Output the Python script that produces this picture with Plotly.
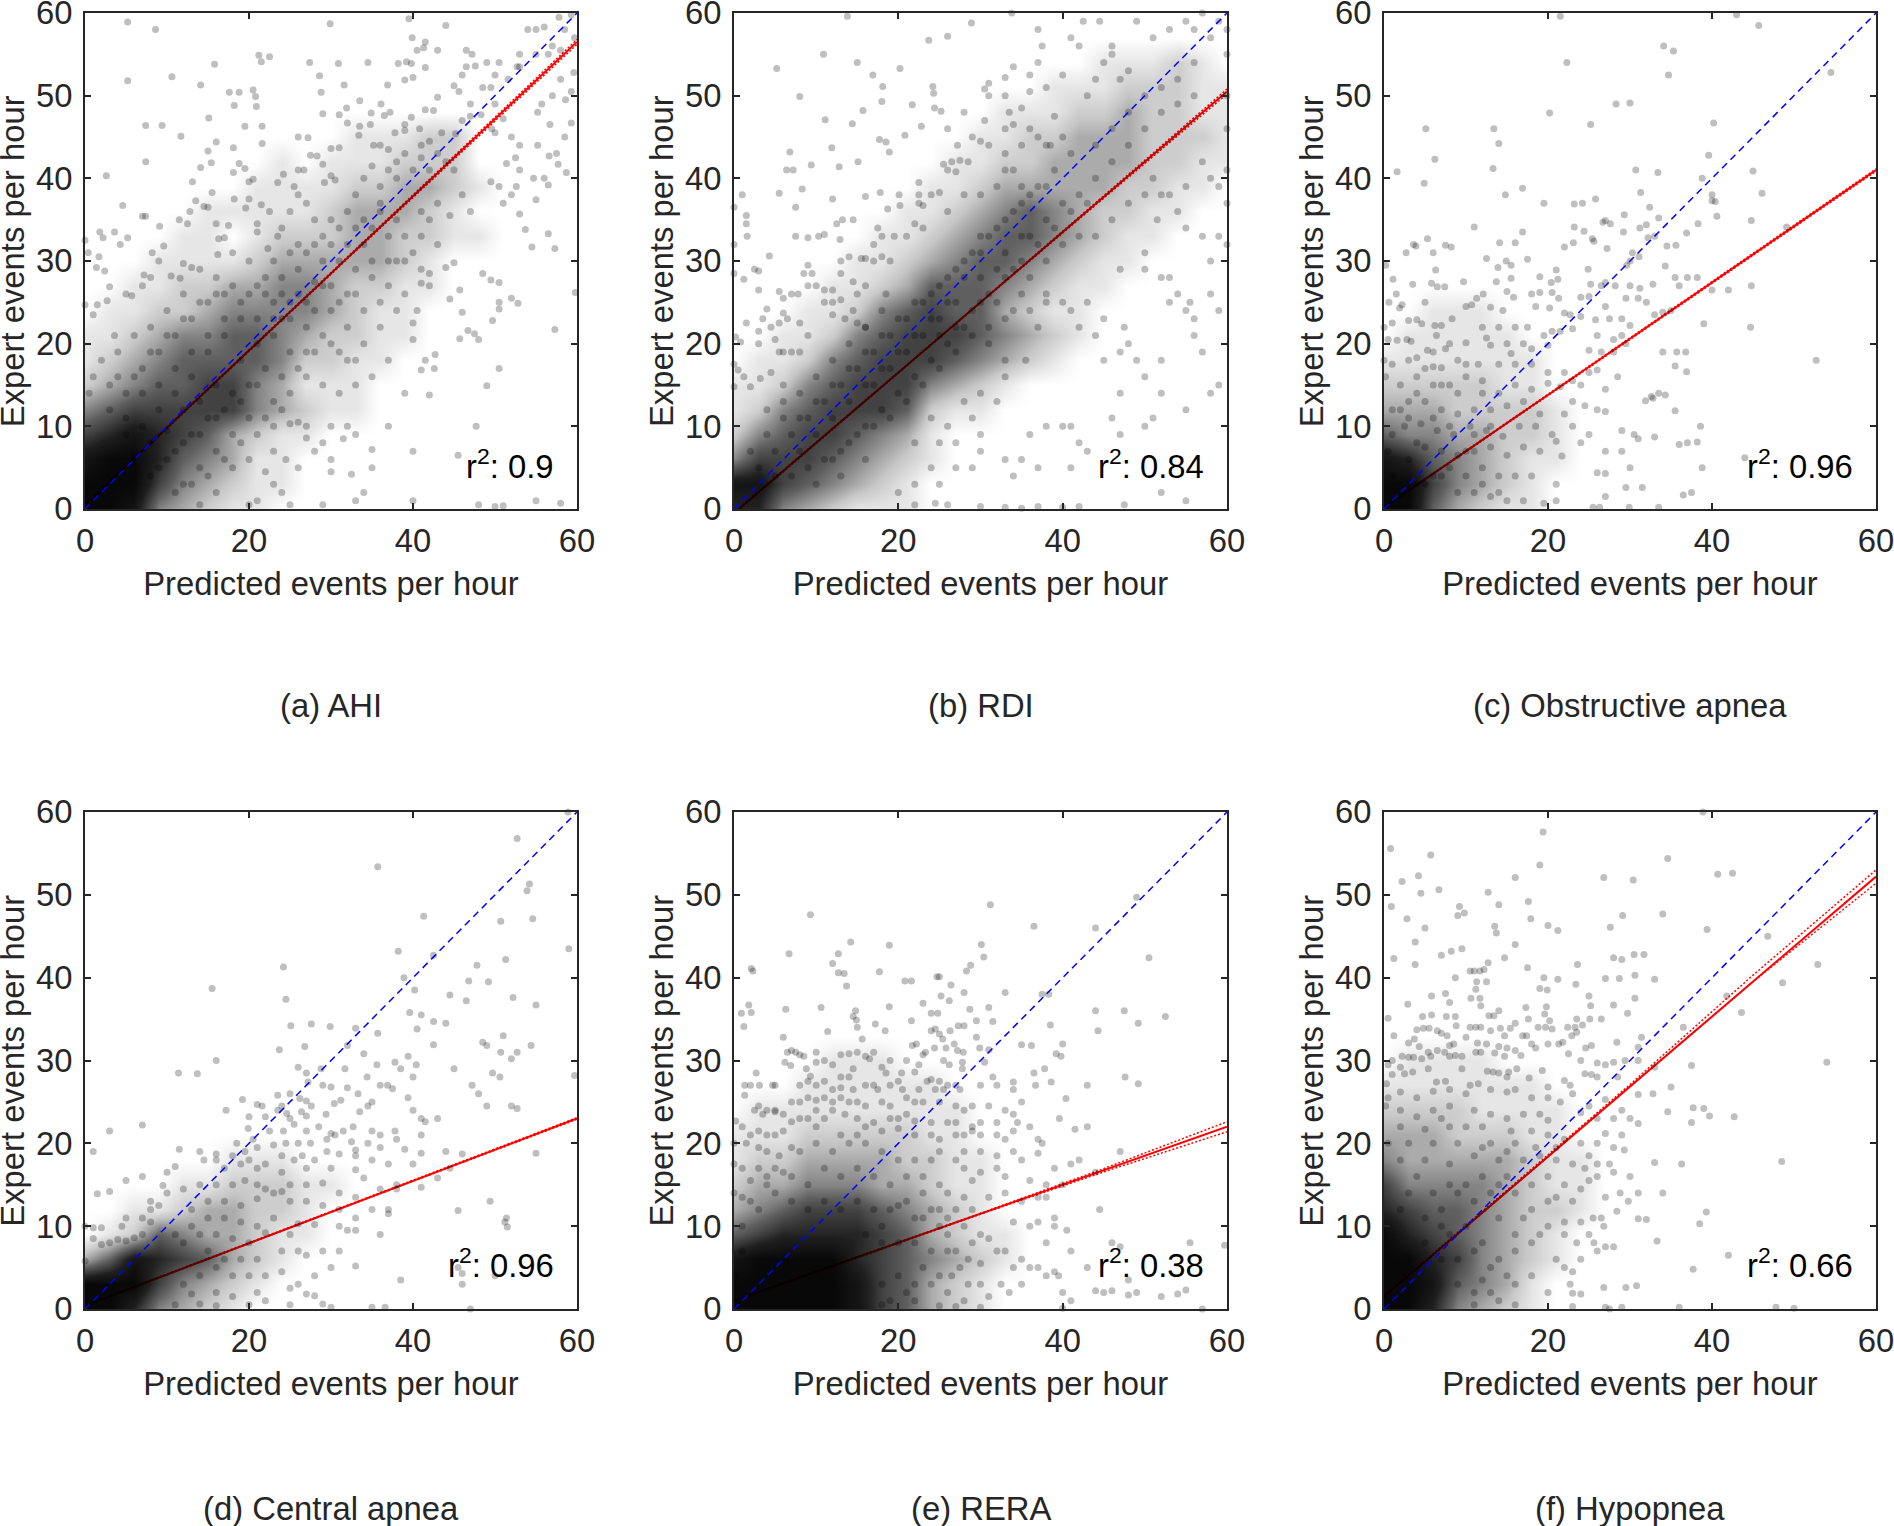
import plotly.graph_objects as go

# Values (predicted, expert)
a_dots = [(5.2,58.9),(8.6,58),(5.2,51.8),(10.6,52.3),(7.4,46.4),(9.4,46.4),(7.4,42),(2.6,40.3),(11.7,45.1),(14.1,51.3),(15.8,53.8),(15.1,47.3),(17.6,50.4),(18.8,50.4),(18.2,48.8),(20.5,50.7),(20.8,49.9),(20.9,48.7),(21.2,54.9),(21.5,54.1),(22.5,54.7),(19.5,46.3),(21.6,46.3),(16,44.4),(21.6,44.2),(15,43.3),(18.1,43.7),(15.4,41.9),(14.1,41.3),(13.1,39.6),(18.8,41.8),(19.5,41.2),(18.1,40.7),(20,39.6),(20.5,39.9),
(0,32.5),(0.4,31),(1.8,33.5),(2.2,32.8),(3.6,33.5),(4.3,32),(5.2,32.8),(4.6,36.7),(7,35.4),(7.4,35.4),(9.1,34.2),(8.2,31),(9.6,31.8),(1.7,30.5),(1.4,29.2),(2.4,28.8),(0,24.7),(1.5,24.7),(2.7,25.2),(3,26.9),(3.6,21),(1,23.5),(5,26),(5.7,25.8),(8,28),(7.2,28.3),(7,27),(9,30),(10.5,28.2),(11.6,27.9),(12,29.7),(13,29.2),(11.5,35),(12.5,34.5),(12.8,36),(13.5,37.3),(14.5,36.6),(15.5,38.3),(16,34.5),(16.3,32.7),(17,32.8),(16.2,30.8),(15,36.5),(17.5,34.3),(18.2,37.5),(19.6,36.4),(20,37.5),(21,34.5),(21.5,36.8),(22.5,36),(21,33.5),(22.3,31.5),(23.5,33),(24.2,40.5),(23.5,39.5),(25.5,39),(26,41),(26.7,41),(27.5,42.8),(28.3,42.7),(26,45),(27.2,44.9),(29,41.7),(29.2,39.5),(30,40.3),(30.5,39.8),(31,43.7),(30,43.6),(29,47.8),(31,47.7),(32,46.7),(31.9,48.5),(31.6,51.3),(30.9,53.9),(28.6,52.4),(28.8,50.4),(27.4,54),(34.5,54),(33.5,49.4),(34.9,47.9),(36.1,49),(33.5,46.3),(34.8,46.5),(33.4,45.2),(36.5,47.6),(37.2,48),(36.9,51.3),(37.8,45.5),(36,44),(35.2,44),(37,43.5),(39,46.5),(39.8,47.4),(39,45.8),(38,40),(40.8,46),(41,44),(42,44.5),(43,43),(43.5,45.5),(45.2,45.4),(46,47),(47,47.5),(45.6,50.5),(45,51.2),(43,49.8),(41.5,48.3),(42.5,48.2),(47,49),(48.5,51),(49.5,51),(50,52.5),(49,54),(50.5,54),(46,52.5),(46.5,55.5),(47.2,55),(43,55.5),(41.5,53.4),(40,52.2),(39,51.9),(38.2,53.9),(39.2,54.1),(39.8,53.9),(40.5,55.5),(41.3,55.8),(41.5,56.5),(39.9,57),(39.5,59.3),(44,58.5),(46.5,53.5),(47.6,53.6),(48.3,47.7),(51,47.2),(50,45.5),(52,45),(53,44),(52.5,42.5),(53,41),(51.4,41.8),(54.7,40),(56,40),(56.5,39.2),(56.6,42.7),(55.2,44),(57.7,41.7),(58.7,40.7),(57.5,43),(58.5,45),(59.3,46.7),(56.7,46.5),(55.7,49),(55.2,48),(57,50),(58.6,49.5),(58,52),(59.3,50.5),(59.6,52.8),(58,55.5),(56.5,55),(55,55),(53,55),(53,53.5),(51.6,52),(54,58),(55,58),(56,58.3),(57,56),(57.8,59.5),(58.5,58),(59.3,59.8),(59.7,57),(29.9,58.7),(52.7,53.5),(50,49),(49.6,46),(49.5,39.6),(50.5,39),(52,38),(52.6,39),(51,37),(55,37.4),(53,35.7),(53.7,33.8),(54.5,31.7),(56.5,33.3),(57.3,31.5),(59.8,26.2),(57.3,21.7),(48.5,28.5),(49.5,27.7),(50.5,27.4),(52,25.5),(52.8,24.9),(50.5,25),(50.5,24.2),(49.7,22.8),(50.5,17),(49,14.9),(47.5,21.2),(46.7,21.6),(48,20.5),(45.7,20.6),(46,23.8),(45.7,26.5),(44.5,25.4),(45,29.8),(44,29.2),(42,28.5),(41,27.3),(42,27),(40.5,24),(40,22.5),(40,20.5),(41.5,18),(42.7,18.7),(42.6,17),(41,16.8),(42,13.8),(39,14),(40,7),(37,10),(35,7.2),(33,9),(32,10),(30,10),(31.5,8.5),(35,5),(32.5,4.2),(34,2),(33,1),(40,1),(47.7,10),(48,0.5),(50,0.3),(51,0.4),(55,1),(58,0.7),(45.5,6.5),(29,8),(27,8.6),(25,10.3),(26,10.5),(27,10),(28,7),(30,6),(26,5),(24.5,6),(23,7),(22,4.5),(23,3),(24,2),(25,0.5),(30,4.5),(29,0.5),(20,6),(18,5),(21,1),(20,0.5),(16,2),(14,0.5),
(33,38),(34,40),(35,41.5),(36,39),(37,41),(38,42),(39,43),(40,41),(41,42.5),(42,41),(44,42),(45,41),(43,37),(44.5,35.5),(46,38),(47,36),(42,35),(41,33),(40,31),(39,33),(38,35),(37,33),(36,36),(35,34),(34,32),(33,34),(32,36),(31,34),(30,35),(29,33),(28,35),(27,37),(26,38),(25,36),(24,34),(23,30),(25,31),(27,31),(29,30),(31,30),(33,29),(35,28),(37,27),(39,26),(41,29),(43,32),(38,30),(36,25),(34,24),(32,22),(30,24),(28,24),(26,26),(24,28),(22,28),(20,30),(18,31),(16,28),(14,29),(12,26),(10,24),(8,22),(6,21),(4,19),(2,18),(1,16),(0.5,14),(3,15),(5,14),(7,17),(9,19),(11,21),(13,23),(15,25),(17,26),(19,25),(21,27),(23,25),(25,23),(27,22),(29,21),(31,19),(33,18),(35,16),(33,15),(31,14),(29,15),(27,16),(25,14),(23,13),(21,15),(19,13),(17,12),(15,11),(13,9),(11,7),(9,5),(12,3),(14,5),(16,7),(18,9),(20,11),(22,11),(24,12),(13,16),(11,14),(9,12),(7,10),(5,9),(15,19),(17,21),(19,18),(21,20),(23,21),(25,19),(27,19),(16,15),(14,13),(12,12),(10,9.5),(8,8),(6,6.5),(36,22),(37,18),(38,24),(34,20),(32,26),(30,27),(28,27.5),(26,29),(24,23),
(3,12),(5,11),(7,14),(9,15),(11,17),(13,19),(15,21),(17,23),(19,23),(21,23),(23,23),(25,25),(27,25),(29,27),(31,25),(33,26),(35,30),(37,30),(39,30),(41,36),(20,15),(22,17),(24,16),(26,17),(28,19),(30,20),(32,18),(18,14),(16,11),(14,9),(12,8),(10,6),(8,4),(11,2),(13,3),(15,4),(17,6),(19,8),(21,9),(23,10),(6,16),(4,16),(8,19),(10,21),(12,23),(14,25),(16,26),(18,27),(20,26),(22,26),(24,26),(26,32),(28,32),(30,32),(32,32),(34,35),(36,37)]
a_density = ["99843211","99964321100","8997543110","67876532110","45666664321100","23455664311100","12345555422110","11234455432211","0112234444321100","00112233443221100","00011112333332100","000011012223322110","00000111112333210","00000001111223321","0000000010111222","0000000000011122"]
a_fit = [0.5,56.5]
a_hi = [0.6,14.55,28.6,42.7,56.8]
a_lo = [0.4,14.45,28.4,42.3,56.2]

b_dots = [(13.8,59.6),(10.9,55),(5.2,53.3),(15,54),(8,49.9),(11.1,47.1),(14.4,46.6),(15.7,48.2),(16.9,52.5),(18.1,51.1),(18,49.3),(20.2,53.3),(23.7,56.7),(26,57.2),(28.9,58.8),(33.8,60),(24.2,51.1),(24.3,50.3),(24.4,48.5),(25.2,48.1),(21.7,48.9),(20.8,45.2),(22.8,46.3),(17.7,44.7),(18.5,44.4),(18.9,43.2),(11.9,43.7),(6.8,43.2),(6.4,41),(7.2,41),(9.4,41.6),(12.8,41.4),(15.1,42),(1,38),(5.5,38.2),(8.3,38.7),(7.5,36.5),(12,37.5),(16,37.8),(17.8,38.3),(18.7,36.3),(20.1,38),(20.2,36.7),(0,36.5),(1.5,35.5),(1.5,34.5),(1.6,33),(0,32),(4.3,30.6),(2.5,29),(3,28.8),(0,28.5),(1.2,27.8),(3,26.5),(5.5,26.3),(6,25.5),(7,26),(7.8,26),(4,24.2),(3.5,23),(1.5,22.5),(3,21.5),(4.5,22),(5.5,22.5),(6,23.7),(6.5,23),(0.2,20.8),(0.8,20.2),(3,20),(5,20.5),(5.5,19),(6,19),(7,19),(8,19),(8,22.5),(9,21),(0,17.5),(0.5,16.8),(1.2,16),(3.2,15.8),(4.5,16.5),(6,15),(2,14.8),(0,14.8),(7.5,33),(9,32.8),(10.3,33),(11,33.2),(12.5,34.5),(13.2,35),(14.5,35),(12.9,32.6),(9,29.5),(9.5,28.5),(8.5,28.5),(13,30),(14,30.5),(13,28.5),(14.5,27.5),(15.5,30.3),(16,30.3),(17,30),(18,30.5),(19,30),(16,27),(15,26),(12,26.5),(11,26.5),(10,27),(9,27),(11,25),(12,25),(13,25.3),(12,23.5),(13.5,23),(14.5,24),(15,22.5),(16,22),(18,24),(18.5,26),(17,32),(17.5,34),(18,33),(19.5,33),(21,33),(22,34.5),(23,34),(22.5,37),(22.5,38),(22.5,39.5),(23,36.7),(24,38),(25,38.3),(26,36),(25.5,41.7),(26,41),(26.5,42),(27.5,42.2),(27,40.8),(26,46),(27.2,44),(28,48),(29,45),(30,44.5),(31,44),(28.5,42),(28,38),(30,38),(32,39),(33,41),(34,41),(35,39),(31,51.5),(30.5,50.8),(33,52.2),(33,50),(33.5,48),(35,48.5),(36,50.5),(37,54),(34,53.5),(37,58),(37.5,56),(36,52.5),(38,51),(39,47.5),(40,52.5),(40,45),(38,44),(37,45),(38.5,44),(35,44),(34,46.5),(33,46),(36,46),(33,43),(30.5,47),(31,50),(41,57),(42,56),(43,50),(44,52),(45,54),(46,55),(47,52),(48,53),(46,56),(42.5,59),(44.5,59),(49,59),(51,57),(53,58),(55,59),(56,58),(57,60),(58,57),(59,59),(60,58),(60,55),(60,50),(60,46),(60,41),(60,37),(59,39),(58,40),(57,42),(55,39),(53,38),(52,38),(51,40),(51.5,35),(54,36),(55,34),(57,33),(59,33),(60,32),(58,30),(58,26),(59,24),(56,23),(55,24),(55.5,25),(53,25),(54,26),(52,28),(53,28),(50,29),(50,31),(47,29),(47.5,22),(48,20),(49,18),(47,19),(47,14),(50,16),(52,18),(52,14),(51,11),(55,12),(58,14),(59,15),(56,21),(57,19),(45,18),(45,23),(44,21),(42,22),(41,24),(40,25),(43,25),(38,26),(37,22),(35.5,18),(33,18),(31,20),(33,16),(30,14),(32,13),(28,13),(29,11),(30,9),(26,10),(24,11),(22,8),(25,8),(27,8),(30,7),(33,6),(35,6),(36,9),(38,10),(40,10),(41,10),(42,8),(43,7),(41,5),(37,5),(34,4),(29,5),(27,5),(24,5),(25,3),(22,3),(20,2),(22,0.5),(24.5,0.7),(26,0.5),(30,0.3),(33,0.2),(35,0.1),(37,0.3),(40,0.2),(42,0.3),(47.5,0.5),(55,1),(52,2),(46,11),(50,10),(47,9),
(36,33),(38,35),(40,37),(42,38),(44,40),(46,42),(48,44),(50,46),(52,48),(54,49),(56,50),(44,44),(46,46),(48,48),(50,50),(52,51),(54,52),(56,54),(41,43),(39,41),(37,39),(35,37),(33,35),(31,33),(29,31),(27,29),(25,27),(23,25),(21,23),(19,21),(17,19),(36,28),(38,30),(40,32),(42,33),(44,33),(46,35),(48,37),(50,38),(38,25),(36,24),(34,24),(32,25),(30,25),(28,22),(26,20),(24,18),(22,16),(20,14),(18,12),(16,10),(14,8),(12,6),(30,31),(28,28),(26,25),(24,23),(22,21),(20,19),(18,17),(16,15),(14,13),(12,11),(10,9),(8,7),(6,11),(8,14),(10,16),(12,18),(14,20),(16,22),(4,9),(2,7),(34,29),(32,29),(30,28),(25,21),(27,25),(35,33),(33,31),
(5,7),(7,9),(9,11),(11,13),(13,15),(15,17),(17,15),(19,17),(21,19),(23,21),(25,23),(27,22),(29,24),(31,26),(33,28),(35,30),(37,32),(39,34),(41,36),(43,37),(7,4),(9,5),(11,6),(13,7),(15,9),(17,10),(19,11),(21,13),(23,15),(25,17),(27,19),(29,21),(31,22),(33,23),(35,26),(3,5),(5,4),(10,3),(13,4),(16,6),(4,12),(6,13),(8,11),(10,13),(12,15),(14,17),(16,19),(18,21),(20,23),(22,25),(24,26),(26,28),(28,30),(30,33),(32,34),(34,36),(36,38),(38,39)]
b_density = ["77432111","8865432100","4666543210","24566543100","12456665211","112456664321","01124566654321","001124566654321","000112456553211","000011235554321100","00000112345543211","000000112345543211","0000000112345432211","00000000112333332211","000000000112233332211","000000000011223332221","000000000001112232211","000000000000011122211","00000000000000011121"]
b_fit = [-0.5,50.5]
b_hi = [-0.4,12.3,25.05,37.9,50.8]
b_lo = [-0.6,12.2,24.95,37.6,50.2]

c_dots = [(21.5,59.6),(43,59.8),(45.7,58.5),(34.1,56),(35.3,55.4),(22.3,54),(34.7,52.5),(54.5,52.8),(28.3,49),(30,49.1),(20.2,47.9),(25.2,46.5),(40.2,46.7),(5.1,46),(13.4,46),(14,44.2),(39.6,42.8),(6.2,42.3),(13.3,41.2),(1.6,40.8),(4.9,39.4),(30.7,41),(33.4,40.7),(45,40.9),(38.8,40),(16.9,38.8),(14.8,38),(19.5,37),(23.2,36.9),(24.2,37),(25.8,37.5),(31.3,38.3),(46.1,38.2),(40,38),(40,37.3),(40.4,37.2),(40.6,35.4),(32.4,36.5),(29.3,35.6),(27,34.9),(27.6,34.5),(26.7,34.7),(33.5,35.2),(44.8,34.9),(38.3,34.5),(49.1,34.1),(11,34.1),(23.2,34.1),(24.4,33.6),(16.9,33.5),(31.2,34),(32,34.4),(36.9,33.4),(29.2,33.5),(5.3,32.7),(25.4,32.7),(25.6,32.4),(14.1,32.2),(16,32.2),(3.6,32),(3.9,31.8),(7.5,31.9),(8.2,31.7),(22,31.7),(23.1,32.2),(32.2,32.8),(33,33),(27.2,31.5),(34.5,31.8),(35.6,31.9),(6,31),(2.7,31),(30.3,31),(21,28.9),(12.5,30.3),(17.5,30.2),(13.9,29.2),(14.9,30),(15.5,29.5),(24.9,29),(30,30),(31.1,30.5),(29.6,29.5),(34.3,29.4),(0.2,29.5),(6.3,28.9),(1.1,27.8),(3.5,27.2),(5.8,27.3),(6.5,26.9),(7.4,26.9),(9.7,27.5),(13.7,27.5),(15.5,27.9),(19,28.1),(20.4,27.4),(21.2,27.8),(25.2,27.2),(26.5,27),(27,27.4),(28.2,27),(30,27),(31.2,26.7),(32.8,27.2),(35.5,28),(37,28),(38.2,28),(36,27),(40,26.5),(42,26.5),(44.8,27),(1.5,26),(0.6,25),(1.9,24.3),(2.2,24.7),(5,25),(11.3,25.5),(12.1,26),(15,26.3),(15.8,25.6),(18,26),(19,26.2),(20.5,26.2),(21.3,25.5),(24,25.6),(25,25.7),(27,24.5),(29.5,25.5),(31,25.5),(32,25),(10,24.5),(10.7,24.7),(13,24.4),(14.5,24),(18.5,24.5),(20.2,24.3),(22,23.7),(22.7,23.5),(24,23.3),(25.8,22.9),(27.5,23),(29,23),(30,22.2),(33,23.5),(34,23.8),(35,24),(1,22.5),(3,22.8),(4,22.9),(4.6,22.4),(6.2,22.2),(7,22.2),(8.3,23),(12,22),(14,22),(16,22),(17.5,22),(19.5,21),(20.5,21.5),(21.5,21.5),(23,21.8),(26,21),(28,20.5),(29,21),(39,22.4),(44.7,22),(0,22),(0.5,20.5),(1.6,20.4),(2.8,20.5),(3.3,20.3),(5.3,19.2),(6.4,21),(7.5,19.4),(8,20),(10,20.1),(12.5,20.7),(13,19.8),(15,20),(17,20),(18,19.4),(20,19.8),(25,19.2),(26.5,19),(28,19),(29.5,20),(34,19),(35.7,19),(36.8,19),(52.7,18),(0,18),(1,17.5),(3,18),(4,18.3),(5,17),(6,17.2),(7,17.1),(9,18),(10,17.5),(11.5,17.5),(14,17.5),(15.5,18.8),(16,17.5),(18,17.5),(20,16.5),(22,16.5),(23,15.5),(24,15),(25,16.5),(26,16.8),(35.5,17.3),(36.9,16.6),(0.2,16),(2,15),(4,14),(6,15),(8,15),(10,16),(12,15.5),(14,14),(16,15),(18,14.5),(20,15.2),(21.5,14.8),(27,14.5),(28.5,16),(32.6,13.6),(33.5,14),(34.3,13.8),(31.9,13.1),(32.8,13.4),(1,12),(3,11),(5,13),(7,12),(9,11.5),(11,12),(13,12),(15,12.5),(17,13),(19,11.5),(22,11.5),(23,13),(24.5,12.5),(26,12),(27,11.8),(35.5,11.9),(1,9),(2.5,10),(4.5,10.3),(6.5,9.5),(8.5,9),(10.5,10),(12.5,9.5),(14.5,8.8),(16.5,10),(18.5,10),(20.5,9),(23,10),(25,9),(29,9.5),(30.5,9),(31,8.5),(33,8.7),(36,7.8),(38.2,8.1),(37,8),(38.6,10),(0.5,7),(3,6),(5,7.5),(7,7),(9,6.5),(11,7),(13,7.5),(15,6.5),(17,7.5),(19,7),(21,8.2),(21.7,6.4),(24,8),(27,7),(30,5),(29,7),(44,6.2),(38.8,5),(1,4),(4,3),(7,4),(10,4),(12,3),(14,4),(16,4),(18,4),(21,3),(26,4.4),(27,4.3),(29.5,2.6),(31.5,2.6),(36.5,1.7),(37.5,2),(13,1.5),(15,1),(17,1),(19.5,0.7),(21,1),(25.5,0.2),(26.3,0.2),(29.9,0.2),(33.5,0.2),(27,1.5),
(6,4),(8,5),(5,3),(9,2),(11,2),(8,10),(6,11),(4,8),(2,12),(3,13),(10,7),(12,5),(14,2),(11,9),(13,10),(12,14),(9,14),(7,15),(4,16),(6,19)]
c_density = ["99532110","99643210","87543211","54433221","33322221","22222110","11111110","01111100","00111000"]
c_fit = [0.2,41]
c_hi = [0.25,10.45,20.65,30.85,41.15]
c_lo = [0.15,10.35,20.55,30.7,40.85]

d_dots = [(58.9,60),(52.7,56.8),(35.7,53.4),(53.9,50.5),(54.2,51.3),(54.6,47.1),(41.3,47.4),(50.7,46.8),(24.2,41.3),(38.2,43.2),(42.5,42.7),(59,43.5),(51.3,42.2),(47.8,41.5),(46.8,39.6),(38.9,40),(49.2,39.5),(52.2,37.6),(15.5,38.7),(24.5,37.4),(44.5,37.9),(46.5,37.2),(40.2,38.5),(55,36.7),(39.6,35.8),(41,35.5),(44,34.5),(42.5,34.7),(25.1,34.2),(27.6,34.4),(29.9,34.1),(33,33.9),(35.7,33.3),(48.5,32.2),(49,31.8),(42.5,31.9),(40.5,33.8),(51,33),(32,31.8),(23.7,31.3),(26.8,31.7),(34,30.8),(39.4,30.5),(54.4,31.8),(52.7,31),(50.7,31),(52,30.2),(16,30),(11.4,28.5),(19.2,25.3),(13.7,28.4),(17.2,24),(21,24.7),(24,24.5),(23.5,24),(28.8,29),(31.7,29),(35.6,29.5),(37.8,29.8),(38.5,29),(40.4,29.5),(45,29),(49.7,28.5),(50.6,28),(59.7,28.2),(26,29.2),(27,28.5),(27.2,27.4),(29,27),(30,26.8),(32,26.7),(33.3,26),(34.4,28),(36,27),(36.9,27),(37.5,26.6),(40,28),(47.2,27),(48,26),(52,24.5),(39.4,25.5),(40,24),(41,23),(43,23),(41.5,22.6),(49,24.5),(52.7,24.2),(23.5,25.8),(25,26),(26.2,25.4),(27,25.1),(27.6,24.5),(30.4,24.8),(31.2,25.2),(34.5,24.5),(35,25),(20,23.2),(21.6,24.5),(22,23.2),(24.6,23.6),(25,23),(26.4,23.8),(27,23.3),(29.4,23.5),(33.5,23.8),(19.9,21.8),(22.5,21.5),(24.2,21.5),(25.5,22.3),(27,21.5),(28.5,22),(30,21.2),(31.5,21.5),(32.7,22),(35,21.5),(20.5,20.5),(24.5,20),(26,20),(27.5,20),(29.5,20.5),(30.5,21),(32.5,20.2),(33,19.2),(34.5,20),(36,21),(37.8,21.5),(41,21),(38,20.5),(36,19.5),(39,19.3),(41,18.8),(44,19),(46,18.7),(55,18.8),(18.5,20),(19.5,19),(21,19.5),(23,19.8),(24,18.5),(25.5,18),(26.5,18.5),(28,18),(29.5,19),(31,18.7),(33,18.5),(35,18),(37,17.5),(40,17.5),(44.5,17),(18,18.5),(16,18),(14,19),(11.5,19.3),(7,22.2),(3,21.5),(1,19),(7,16),(5,15.5),(10,16.5),(11,17.2),(14.5,18),(16,18.7),(17,17),(19,17.5),(20,18),(21,17),(22,17.5),(24,16.5),(27,17),(30,17),(33,16.8),(34,15.8),(38,15),(41,14.7),(43,15.8),(3,14.2),(1.5,13.9),(8,13),(10,14),(12,14.5),(14,15),(16,15),(18,15),(19.5,15.5),(21,15),(22,14.5),(24,14.2),(25,15),(27,15),(29,15.2),(31,14),(33,13.5),(36,14.5),(38,14.5),(13,12),(15,13),(17,13),(19,12.5),(21,13.3),(23,14),(25,13),(27,13),(29,12.5),(31,12),(33,11),(35,12),(37,11.5),(37,12),(49.4,13),(51.2,10.5),(51.5,9.9),(51.4,11),(45.5,11.9),(13,10),(15,11),(17,11),(19,10.5),(21,10),(23,11),(26,10.3),(28,10.2),(31,10),(32,9.5),(33,9.5),(36,9),(11,9),(12,8),(14,9),(16,9),(18,8.5),(20,8),(22,9.2),(25,9),(26,7),(24,7),(27,6.5),(29,7),(31,7),(30,5),(33,5.2),(28,4),(26,3),(24,4.5),(22,4),(20,4),(18,4),(16,5),(15,7),(17,6),(19,6),(21,6),(14,4),(12,3),(13,1.8),(16,2),(18,1.5),(21,2),(25,2.5),(27,1.8),(28,1.6),(38.5,3.5),(46,3),(45.5,5),(46,4.3),(50,4),(35,0.2),(36.6,0.2),(30,0.2),(29,0.6),(25,0.5),(22,1),(20,0.5),(16,0.4),(14,0.6),(11,0.5),(47,0),(0,10),(1,9.8),(2,9.8),(1,8.5),(2,7.8),(3,8),(0,5.8),(4,8.4),(5,8.2),(6,8.6),(7,9),(7,11),(8,12),(8,10.5),(9,12.5),(9.5,14.9),(4.5,10),(5,11)]
d_density = ["99743210","99964321","358765321","0125433211","0011233221","00001122211","0000001110"]
d_fit = [0.4,23]
d_hi = [0.45,6.1,11.72,17.4,23.1]
d_lo = [0.35,6.05,11.68,17.3,22.9]

e_dots = [(9.3,47.6),(31.2,48.8),(36.5,46.2),(44,46),(49,49.7),(14.2,44.3),(18.9,43.9),(30.1,44),(30.4,42.5),(6.7,42.9),(12.7,42.9),(2.1,41.1),(2.3,40.8),(12,41.7),(12.7,40.6),(13.4,40.5),(17.7,40.7),(24.7,40.1),(25,40.1),(28.3,40.8),(28.8,41.5),(20.8,39.6),(21.6,39.6),(13.7,39),(26.4,39.1),(28,38.2),(33,38.2),(37.5,38),(38.3,38),(50.5,42.4),(1.8,36.7),(0.9,35.7),(6.3,36.2),(2.1,35.8),(10.6,36.4),(15,34),(18.9,36.5),(23,36.9),(24,35.7),(24.8,35.7),(25.2,37.8),(26.2,37.2),(28.7,36.2),(31,36.4),(31.5,34.7),(38.5,34.3),(44,36),(47.5,36),(49.2,34.5),(52.5,35.3),(1.2,34.1),(14.5,35.3),(14.8,36),(14.9,34.9),(17.2,34.4),(18.4,33.6),(21.6,34.8),(24,33.6),(24.5,33.8),(25,33.2),(26.3,33.6),(27.3,34.2),(28,34.2),(29.5,34.8),(44.3,33.6),(6,32.8),(11.4,33.5),(15.6,32.6),(21.7,31.8),(22.2,32),(23,30.7),(23.3,31),(24.4,31.5),(25.4,32.6),(25.8,31.5),(26.8,32),(27.2,31.2),(27.9,31),(29.5,32.8),(29.9,31.5),(31,31.3),(35,31.9),(36.2,31.8),(39.8,30.5),(39.2,30.8),(40,32),(6.5,31),(7,31.2),(7.5,31),(8,30.7),(8.5,30.5),(10,31),(13,30.7),(14,30.8),(15,31),(16,30.5),(17,31),(16.5,30.2),(19,30),(18,29.2),(21,30),(22.5,29.5),(25.5,30),(26.2,29.5),(27.8,29.8),(27.8,29),(30.5,29.8),(37.8,29),(36.5,28.5),(2.7,28.5),(3.1,27),(5,27),(6.2,29.8),(6.9,29.4),(8.8,29),(9.3,28.1),(10,29.8),(11,30),(12,29.5),(13,28),(14.5,29),(14,28),(18.5,28.5),(20,27.5),(20.4,28.5),(22,28.6),(23.5,27.5),(24,27.7),(25,27.5),(26,27),(27,27),(30,27),(32,27),(31.5,28),(34,27.4),(36.7,27),(38.6,27.4),(43,27),(49.2,27.2),(47.6,28),(1.3,27),(2,27),(4.7,27),(8,27),(9,27.5),(10,27),(11,27.5),(12,26.5),(13,26.7),(14.5,26.5),(16,27),(17,27),(17.5,26.5),(19,27),(20.5,26.5),(22.5,26.5),(24.5,26.5),(25.5,26.5),(27.5,26.5),(34,26.5),(1.3,25.8),(2.5,24),(3,24.5),(4,24),(5,24),(7,25),(8,25),(9,25.5),(10,25.2),(11,25.5),(12,25),(13,25.5),(14,25),(15,25),(16,24.5),(18,25),(19,24.5),(21,25.5),(22,25),(23,25),(25,25),(27,24.5),(28,24),(29,24.5),(31,24.5),(33,24),(35,25),(40.4,25.4),(3.5,23.5),(5,23.8),(6,23.5),(7,22.6),(8,23),(9,23),(10,24),(11,23),(12,24),(13.5,23.5),(15,23),(17,22.5),(19,23),(20,23),(21,23.5),(22,22.7),(24,22.5),(26,22.5),(27,22.5),(29,22),(30,22.5),(32,22.5),(34,23.5),(34.5,22.5),(36,22),(39.6,23),(43,22),(41.5,21.7),(0.2,22.7),(1,22),(2,21),(3,21.5),(4,21),(5,21),(6,21.5),(18,21.5),(20,21.8),(22,21),(24,21),(25,20.5),(27,21),(28,21),(29,21.5),(30,21),(32,21),(33,20.5),(34,21.5),(37.5,20),(37,20.5),(0,20),(1.5,20),(3,19.5),(4,19),(5.5,18.5),(7,19.5),(25,19),(27,18),(28,19),(30,19),(32,18.5),(34,19),(35,18),(37,18.8),(39,17),(41,17.5),(42,18),(47,19),(0,17.5),(1,17),(2,15.5),(3,17),(4,16),(5,17),(6,16.5),(28,17),(30,16.5),(32,17),(33,16),(36,15.5),(38,15),(40,15),(44,16.5),(0,14),(1,13.5),(2,13),(3,12),(4,15),(29,15.5),(31,13.5),(33,14),(35,13),(37,13.5),(38,13.5),(39,11),(34,10.5),(36,10),(37,10.5),(39,10),(38,8),(41,7),(43,5),(46,8),(44.5,12),(40.5,9.5),(47,7.5),(29,8),(30,9),(31,8.5),(32,7),(33,7),(34,5),(35,6),(36,5),(37,5),(39,4.5),(39.5,4),(38,4),(35,3),(33.5,2),(32.5,3),(30,3),(31,1.5),(28,1),(28.5,3),(26,2),(40,2),(41,1),(44,2.2),(45,2),(46,2.2),(52,1.5),(54,1.8),(55,2.3),(59.7,7.7),(55.5,8),(49,2),(48,1.7),(48,3.5),(40,0.1),(57,0),(25,0.4),(27,0.3),(30,0.2),(26.5,4),(25,4),(27,7),(26,7),(28.5,6),(27.5,5),(30,5.5),(23,5),(21,2),(19,1),(22,1),(18,0.5),(28,10),(27,12),(29,12),(24,12),(26,14),(28,13.5),(25,10),(22,11),(23,14),(20,12.5),(18,10),(1,10),(1,7),(0.2,4),
(7,16),(9,15),(11,17),(13,16),(15,17),(17,16),(19,15),(21,16),(23,16),(25,15),(5,14),(7,13),(9,12),(11,13),(13,12),(15,13),(17,12),(19,12),(21,13),(23,11),(25,12),(8,19),(10,20),(12,19),(14,20),(16,20),(18,19),(20,18),(22,18),(24,18),(10,22),(16,22),(26,9),(24,7),(22,8),(20,8),(18,8),(16,9),(24,3),(22,3),(20,4),(18,3),(26,11),(15,21),(13,21)]
e_density = ["99999865321","99999865321","899997654321","567777653211","3456665432100","2334443321100","1223333221100","1112222211000","0111111111000","00011111100","000011100"]
e_fit = [1,22]
e_hi = [1.1,6.3,11.55,16.95,22.6]
e_lo = [0.9,6.2,11.45,16.55,21.4]

f_dots = [(38.9,60),(19.4,57.6),(0.8,55.6),(5.7,54.8),(19,53.6),(34.6,54.4),(2.2,51.6),(4.2,52.3),(16,52.1),(26.8,52.1),(30.4,51.8),(40.7,52.5),(42.5,52.6),(4.5,50.2),(6.7,50.6),(12.7,50.3),(17.6,49.2),(14,48.8),(0.9,48.6),(9.2,48.6),(9,47.5),(9.8,47.8),(2.8,47.1),(17.9,47.1),(29.1,47.5),(34,47.7),(20,46.3),(27.6,46.1),(13.5,46.2),(5,46),(13.7,45.4),(21.2,45.7),(39.4,45.8),(46.8,45),(16,44),(3.8,44.3),(14.7,42.4),(9.5,43.5),(8.2,43.2),(7,42.7),(1.2,42.3),(3.8,41.6),(12.7,41.8),(17.5,41.2),(23.6,41.6),(30.5,42.8),(31.7,42.8),(28,42.4),(29,42.2),(12.2,41),(10.5,40.8),(11,40.8),(11.7,40.8),(8.7,40),(19.5,40),(27,39.9),(28.7,39.9),(30.6,40.3),(33,39.8),(11.3,39.5),(12.5,39.5),(21.2,39.8),(23.4,39.2),(48.6,39.4),(52.9,41.6),(11.2,38.6),(19,38.7),(19.9,38.5),(7.5,38.1),(5.8,37.8),(25,37.8),(10.6,37.5),(11.7,37.5),(8,37),(2.9,36.8),(11.8,36.6),(25.2,36.6),(28,36.7),(30.6,37.5),(41.8,37.8),(14,36),(17.3,36.4),(19.8,36.5),(0.5,35.1),(4.7,35.3),(5.8,35.5),(7.6,35.3),(8.7,35.3),(12.8,35.4),(13.4,35.4),(17.6,35),(19.6,35.6),(20.2,34.8),(23.5,35),(25.1,35),(26.5,35),(29.7,35.7),(43.6,35.8),(4,33.7),(4.8,33.9),(5.5,33.9),(6.5,33.6),(7,33.3),(8.8,34.2),(10.5,34),(11.2,34),(11.8,34),(13,33.6),(14.2,33.9),(15.4,33.9),(16,34.5),(18.8,34),(19.7,34),(20.5,33.8),(22.4,34),(23.3,34),(24.2,34.3),(36.5,34),(1.2,33),(3.7,32.6),(7.7,33),(14.7,33),(16.9,33),(17.4,33),(22.9,33),(23.5,33.4),(28.4,32.2),(31.4,32.8),(10,32.8),(11.4,32.1),(12.5,32),(3,32.1),(4.3,31.7),(5.4,31),(6.5,31.2),(7.4,31),(8,31.8),(8.5,32),(14,31.7),(15,31.5),(16,31.2),(18,32),(18.5,31.5),(20,32),(21.3,32),(21.8,32.2),(24.6,31.5),(25.3,31.8),(31,31.6),(2.2,30.5),(3,30.4),(3.6,30.4),(4.6,30.2),(5.7,30.5),(8,30.5),(8.7,30.6),(9.5,30.5),(11.2,31),(11.8,31),(13.5,30.9),(14.7,30.5),(16.7,30.6),(22.5,30.8),(24,30),(26,29.7),(27,29.5),(28,29.8),(29.4,30),(31,30),(33,29.2),(37.5,29.4),(54,29.8),(0.5,29.5),(1,30),(2,29.2),(5.4,29),(9.5,29),(12.6,28.7),(13.3,28.6),(14,28.5),(15.2,28.6),(16.2,29),(19.3,28.8),(24.5,28.4),(25.3,28.3),(26,28),(28.5,28),(0.3,27.2),(1,28.3),(2.5,28.4),(3.5,28.6),(6.4,27.4),(7.5,27.5),(10.5,27),(11.5,27.2),(15,28),(17.7,27.9),(20,26.8),(22,27.6),(22.7,27),(23,26),(31,25.9),(32.8,26),(35,26.8),(0.5,25.5),(2,26.2),(4,25.5),(6,26.3),(8,26.5),(10,26),(13,26.5),(15,26.2),(16,26.5),(18,25.5),(20,25.5),(21.5,25),(25,24.5),(27,25.3),(29,24),(34.6,23.8),(37.7,24.3),(39,24.2),(39.7,23.3),(42.7,23.2),(0.2,24.5),(2,24),(4,23.2),(6,24),(8,24.5),(11,24),(13,23.5),(15,23),(17,23.5),(19,23.5),(20,22.8),(24,23.7),(26,23),(28,23),(30,23),(31,22.4),(37.5,22.5),(2,22),(5,21.7),(8,22),(12,22),(15.5,21.5),(18,21.5),(20,21),(22,20.5),(24,20),(27,21.2),(29,21),(26,20),(0.5,20),(3,20),(6,20),(9,20),(12,19.5),(16,20),(18.5,19.5),(21,19.5),(28,19.5),(29.3,19.2),(2,18),(5,18),(8,17.5),(11,18.5),(14,18),(17,18),(19,18.5),(21,18),(23,17.5),(25,18.5),(26,17.5),(27.5,17.5),(33,17.7),(36.3,17.5),(48.5,17.8),(28,16.5),(24.5,17),(26,16),(30,16),(15,16),(18,15),(20,16),(22,15),(24,14.5),(25,15.5),(28.8,14),(29.8,13),(31,14),(34,14),(20,13),(21,13.5),(23,13),(27,13.5),(28.4,11.8),(31,10.9),(32,10.8),(39.3,11.7),(38.5,10.3),(18,12),(20,10),(22,10.5),(24,10.5),(25.5,11),(26.5,11),(26.8,10),(22,9),(23.5,8),(25,9),(27,7.5),(25.6,8),(28,7.5),(33.3,8.2),(24,6),(21,6),(22,5),(23,4.5),(26,7),(42,6.5),(37.7,4.8),(26.8,2.6),(29.5,2.6),(30.8,2.8),(23,1.9),(24,1.8),(22.7,3),(20,2),(18,4),(16,3),(14,1),(13,2),(11,0.5),(16,0.5),(23,0.3),(27,0.2),(27.5,0),(29,0.2),(36,0.2),(47.8,0.2),(50,0.1),(12,3.5),(14,6),(12,8),(14,11),(16,9),(18,8),(16,7),(13,14),(11,13),(9,14),(7,12),(10,10),(8,9),
(5,11),(7,10),(6,14),(8,15),(10,15),(12,16),(14,15),(16,14),(4,16),(3,14),(2,12),(5,8),(7,6),(9,6),(11,7),(13,5),(15,4),(9,3),(11,2),(17,11),(19,9),(15,19),(10,22),(7,23),(13,20)]
f_density = ["99743210","99854310","99764321","976543210","765543221","644443211","433333211","33322211","22221111","11111110","01111000"]
f_fit = [1.5,52.2]
f_hi = [1.6,14.3,27.1,40.3,53.0]
f_lo = [1.4,14.2,26.9,39.5,51.4]

fit_x = [0,60]
ci_x = [0,15,30,45,60]
identity_x = [0,60]
identity_y = [0,60]
density_axis = list(range(0,61,3))
captions = ["(a) AHI","(b) RDI","(c) Obstructive apnea","(d) Central apnea","(e) RERA","(f) Hypopnea"]
r2_labels = ["0.9","0.84","0.96","0.96","0.38","0.66"]
dots = [a_dots,b_dots,c_dots,d_dots,e_dots,f_dots]
densities = [a_density,b_density,c_density,d_density,e_density,f_density]
fits = [a_fit,b_fit,c_fit,d_fit,e_fit,f_fit]
his = [a_hi,b_hi,c_hi,d_hi,e_hi,f_hi]
los = [a_lo,b_lo,c_lo,d_lo,e_lo,f_lo]
x_ticks = [0,20,40,60]
y_ticks = [0,10,20,30,40,50,60]

W, H = 1894, 1526
lefts = [85, 734, 1384]
rights = [577, 1227, 1876]
tops = [13, 812]
bottoms = [509, 1309]
caption_y = [-0.396, -0.402]
FONT = "Liberation Sans, Arial, sans-serif"
FS = 32.8
INK = "#262626"

def grid(rows):
    n = len(density_axis)
    z = [[int(ch) for ch in row[:n].ljust(n,"0")] for row in rows]
    z += [[0]*n for _ in range(n-len(z))]
    return z

fig = go.Figure()
layout = dict(template="none", width=W, height=H, margin=dict(l=0,r=0,t=0,b=0), paper_bgcolor="white",
              plot_bgcolor="white", showlegend=False, font=dict(family=FONT,size=FS,color=INK))
annotations = []
for i in range(6):
    r, c = divmod(i,3)
    n = "" if i==0 else str(i+1)
    m = str(i+7)
    xa, ya, xo, yo = "x"+n, "y"+n, "x"+m, "y"+m
    axis = dict(range=[0,60], automargin=False, showgrid=False, zeroline=False, showline=True, linecolor=INK, linewidth=2,
                mirror="allticks", ticks="inside", ticklen=6, tickwidth=1.5, tickcolor=INK, ticklabeloverflow="allow",
                tickfont=dict(family=FONT,size=FS,color=INK))
    layout["xaxis"+n] = dict(axis, domain=[lefts[c]/W, rights[c]/W], anchor=ya, tickvals=x_ticks, ticklabelstandoff=2,
                             title=dict(text="Predicted events per hour", standoff=14, font=dict(family=FONT,size=FS,color=INK)))
    layout["yaxis"+n] = dict(axis, domain=[1-bottoms[r]/H, 1-tops[r]/H], anchor=xa, tickvals=y_ticks, ticklabelstandoff=4)
    layout["xaxis"+m] = dict(range=[0,60], overlaying=xa, anchor=yo, visible=False, automargin=False)
    layout["yaxis"+m] = dict(range=[0,60], overlaying=ya, anchor=xo, visible=False, automargin=False)
    under = dict(xaxis=xa, yaxis=ya, hoverinfo="skip")
    over = dict(xaxis=xo, yaxis=yo, hoverinfo="skip")
    fig.add_trace(go.Scatter(x=fit_x, y=fits[i], mode="lines", line=dict(color="#ff0000",width=2), **under))
    for ci in (his[i], los[i]):
        fig.add_trace(go.Scatter(x=ci_x, y=ci, mode="lines", line=dict(color="#ff0000",width=1.5,dash="2px,2px"), **under))
    fig.add_trace(go.Heatmap(x=density_axis, y=density_axis, z=grid(densities[i]), zmin=0, zmax=9, zsmooth="best", showscale=False,
                             colorscale=[[0,"rgba(0,0,0,0)"],[0.25,"rgba(0,0,0,0.22)"],[0.55,"rgba(0,0,0,0.62)"],[0.8,"rgba(0,0,0,0.88)"],[1,"rgba(0,0,0,0.97)"]], **over))
    fig.add_trace(go.Scatter(x=[p[0] for p in dots[i]], y=[p[1] for p in dots[i]], mode="markers", cliponaxis=False,
                             marker=dict(color="black",size=7,opacity=0.25,line=dict(width=0)), **over))
    fig.add_trace(go.Scatter(x=identity_x, y=identity_y, mode="lines", line=dict(color="#0000ff",width=1.5,dash="7px,5px"), **over))
    annotations.append(dict(text="r<sup>2</sup>: "+r2_labels[i], xref=xa, yref=ya, x=57.4, y=5.5, xanchor="right", yanchor="middle",
                            showarrow=False, font=dict(family=FONT,size=FS,color="black")))
    annotations.append(dict(text=captions[i], xref=xa+" domain", yref=ya+" domain", x=0.5, y=caption_y[r], xanchor="center", yanchor="middle",
                            showarrow=False, font=dict(family=FONT,size=FS,color=INK)))
    annotations.append(dict(text="Expert events per hour", xref=xa+" domain", yref=ya+" domain", x=-0.148, y=0.5, textangle=-90,
                            xanchor="center", yanchor="middle", showarrow=False, font=dict(family=FONT,size=FS,color=INK)))
layout["annotations"] = annotations
fig.update_layout(**layout)
fig.write_html("out.html", config=dict(displayModeBar=False), post_script="document.body.style.margin='0';")
